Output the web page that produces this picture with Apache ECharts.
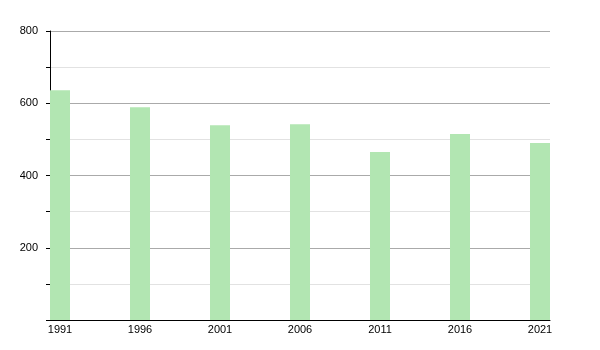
<!DOCTYPE html>
<html><head><meta charset="utf-8">
<script src="https://cdn.jsdelivr.net/npm/echarts@6/dist/echarts.min.js"></script>
<style>html,body{margin:0;padding:0;background:#fff}#c{width:600px;height:350px}</style>
</head><body><div id="c"></div>
<script>
const years = [1991, 1996, 2001, 2006, 2011, 2016, 2021];
const values = [636, 589, 539, 542, 465, 515, 490];
const yTickLabels = [200, 400, 600, 800];

const chart = echarts.init(document.getElementById('c'), null, {renderer: 'canvas'});
chart.setOption({
  animation: false,
  grid: {left: 50, right: 50, top: 31, bottom: 30, containLabel: false},
  xAxis: {
    type: 'value', min: 1990.375, max: 2021.625,
    axisLine: {show: true, lineStyle: {color: '#000', width: 1}},
    axisTick: {show: false},
    splitLine: {show: false},
    axisLabel: {customValues: years, formatter: v => String(v), color: '#000', fontFamily: 'Liberation Sans, Arial', fontSize: 11, margin: 4}
  },
  yAxis: {
    type: 'value', min: 0, max: 800, interval: 100,
    axisLine: {show: true, lineStyle: {color: '#000', width: 1}},
    axisTick: {show: true, length: 4, lineStyle: {color: '#000'}},
    axisLabel: {
      color: '#000', fontFamily: 'Liberation Sans, Arial', fontSize: 11, margin: 12,
      formatter: v => yTickLabels.includes(v) ? String(v) : ''
    },
    splitLine: {show: true, lineStyle: {color: ['#aaaaaa', '#e2e2e2'], width: 1}}
  },
  series: [{
    type: 'bar', barWidth: 20,
    itemStyle: {color: '#b2e6b2'},
    data: years.map((y, i) => [y, values[i]])
  }]
});
</script></body></html>
